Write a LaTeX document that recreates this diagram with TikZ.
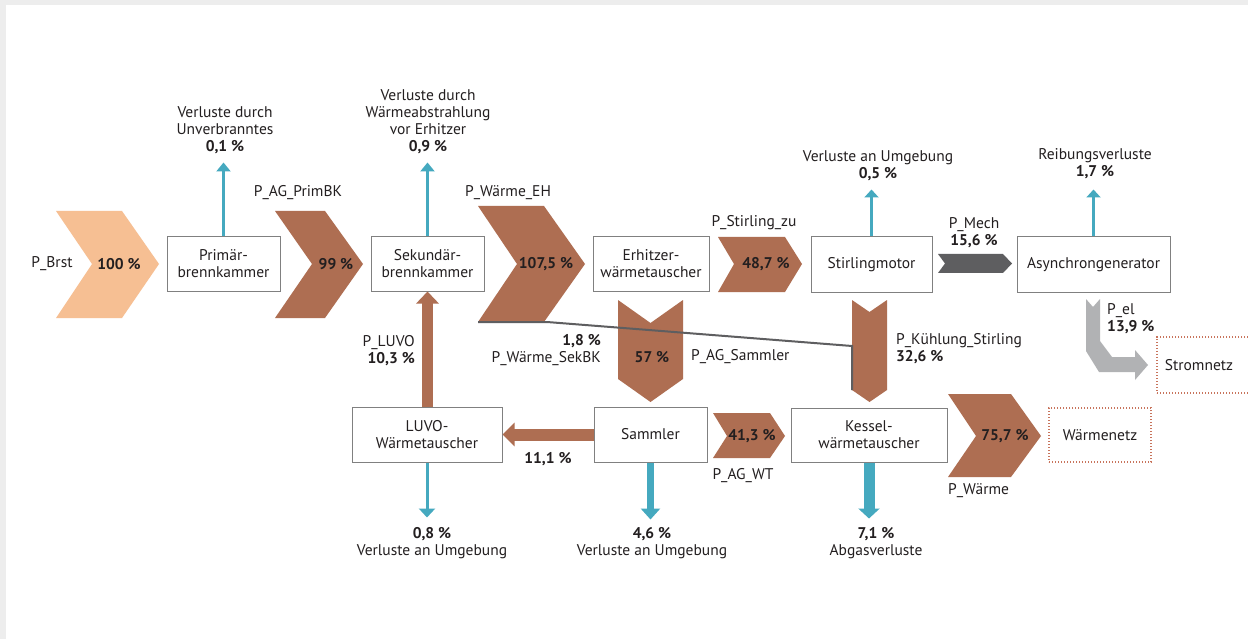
\documentclass[tikz,border=0pt]{standalone}
\usepackage{fontspec}
\setmainfont{PT Sans}
\usetikzlibrary{arrows.meta}
\definecolor{peach}{HTML}{F6BF93}
\definecolor{brown}{HTML}{AE6E52}
\definecolor{teal}{HTML}{45A9BF}
\definecolor{dgrey}{HTML}{5E5E60}
\definecolor{lgrey}{HTML}{B1B2B4}
\definecolor{boxline}{HTML}{808080}
\definecolor{dotline}{HTML}{C8745C}
\definecolor{bg}{HTML}{EDEDED}
\definecolor{txt}{HTML}{231F20}
\begin{document}
\begin{tikzpicture}[x=1pt,y=-1pt,
  font=\fontsize{15.5}{17}\selectfont, text=txt,
  box/.style={draw=boxline, line width=1pt, fill=white, align=center, inner sep=0pt},
  netbox/.style={draw=dotline, line width=1.2pt, dash pattern=on 1.2pt off 1.8pt, align=center, inner sep=0pt},
  lbl/.style={align=center, inner sep=0pt},
  pct/.style={font=\fontsize{15.5}{17}\selectfont\bfseries, inner sep=0pt},
  flow/.style={fill=brown, draw=none},
  loss/.style={draw=teal, line width=3pt},
]
\useasboundingbox (0,0) rectangle (1248,639);
\fill[bg] (0,0) rectangle (1248,639);
\fill[white] (6,5) rectangle (1248,639);

% boxes
\node[box, minimum width=113pt, minimum height=54pt] (prim) at (223.5,264) {Primär-\\brennkammer};
\node[box, minimum width=113pt, minimum height=54pt] (sek) at (427.5,264) {Sekundär-\\brennkammer};
\node[box, minimum width=116pt, minimum height=54pt] (erh) at (651,264) {Erhitzer-\\wärmetauscher};
\node[box, minimum width=121pt, minimum height=55pt] (stir) at (871.5,264.5) {Stirlingmotor};
\node[box, minimum width=153pt, minimum height=55pt] (asyn) at (1093.5,264.5) {Asynchrongenerator};
\node[box, minimum width=150pt, minimum height=55pt] (luvo) at (427,434.5) {LUVO-\\Wärmetauscher};
\node[box, minimum width=113pt, minimum height=55pt] (samm) at (650.5,434.5) {Sammler};
\node[box, minimum width=156pt, minimum height=54pt] (kess) at (869,435) {Kessel-\\wärmetauscher};
\node[netbox, minimum width=102pt, minimum height=54pt] (wnetz) at (1100,435) {Wärmenetz};
\node[netbox, minimum width=94pt, minimum height=56pt] (snetz) at (1204,365) {};
\node[lbl] (snetzt) at (1199,365) {Stromnetz};

% chevrons
\fill[peach] (56,211) -- (122,211) -- (159,264) -- (122,318) -- (56,318) -- (92,264) -- cycle;
\fill[brown] (275,211) -- (325,211) -- (363,264) -- (325,318) -- (275,318) -- (312,264) -- cycle;
\fill[brown] (478,206) -- (544,206) -- (585,264) -- (544,322) -- (478,322) -- (517,264) -- cycle;
\fill[brown] (718,237) -- (785,237) -- (802,264) -- (785,292) -- (718,292) -- (734,264) -- cycle;
\fill[dgrey] (938,254) -- (1003,254) -- (1012,263.5) -- (1003,273) -- (938,273) -- (945,263.5) -- cycle;
\fill[brown] (618,300) -- (650.5,323) -- (683,300) -- (683,379) -- (650.5,402) -- (618,379) -- cycle;
\fill[brown] (852,300) -- (869.5,312) -- (887,300) -- (887,390) -- (869.5,402) -- (852,390) -- cycle;
\fill[brown] (713,413) -- (770,413) -- (785,436) -- (770,458) -- (713,458) -- (727,436) -- cycle;
\fill[brown] (948,394) -- (1011,394) -- (1041,436) -- (1011,477) -- (948,477) -- (976,436) -- cycle;
\fill[lgrey] (1086,299) -- (1093,307) -- (1100,299) -- (1100,341) -- (1112,357) -- (1135,357) -- (1135,350) -- (1148,365) -- (1135,380) -- (1135,372) -- (1099,372) -- (1086,351) -- cycle;

% brown straight arrows
\draw[brown, line width=11pt, -{Triangle[width=22pt,length=12pt]}] (luvo.north -| 427.5,0) -- (sek.south);
\draw[brown, line width=12pt, -{Triangle[width=23pt,length=12pt]}] (samm.west) -- (luvo.east);

% loss arrows
\draw[loss, -{Triangle[width=14pt,length=9pt]}] (prim.north) -- ++(0,-74);
\draw[loss, -{Triangle[width=14pt,length=9pt]}] (sek.north) -- ++(0,-74);
\draw[loss, -{Triangle[width=14pt,length=8pt]}] (stir.north) -- ++(0,-47);
\draw[loss, -{Triangle[width=14pt,length=8pt]}] (asyn.north) -- ++(0,-47);
\draw[loss, -{Triangle[width=16pt,length=9pt]}] (luvo.south) -- ++(0,55);
\draw[loss, line width=7pt, -{Triangle[width=19pt,length=11pt]}] (samm.south) -- ++(0,57);
\draw[loss, line width=11pt, -{Triangle[width=21pt,length=10pt]}] (kess.south) -- ++(0,56);

% SekBK line
\coordinate (sk0) at (478,322);
\coordinate (sk1) at (547,322);
\coordinate (sk2) at (852,346);
\coordinate (sk3) at (852,390);
\draw[dgrey, line width=2pt] (sk0) -- (sk1) -- (sk2) -- (sk3);

% percentages on flows
\node[pct] (p100) at (119,264) {100 \%};
\node[pct] (p99) at (336,264) {99 \%};
\node[pct] (p1075) at (546,264) {107,5 \%};
\node[pct] (p487) at (766,264) {48,7 \%};
\node[pct] (p57) at (652,357) {57 \%};
\node[pct] (p413) at (752,436) {41,3 \%};
\node[pct] (p757) at (1005,436) {75,7 \%};
\node[pct] (p111) at (548,459) {11,1 \%};

% labels
\node[lbl] (brst) at (52,264) {P\_Brst};
\node[lbl] (agprim) at (298,193) {P\_AG\_PrimBK};
\node[lbl] (weh) at (508,193) {P\_Wärme\_EH};
\node[lbl] (stzu) at (754,223) {P\_Stirling\_zu};
\node[lbl] (mech) at (974,233) {P\_Mech\\\textbf{15,6 \%}};
\node[lbl, align=left, anchor=west] (pel) at (1107,318.5) {P\_el\\\textbf{13,9 \%}};
\node[lbl, align=left, anchor=west] (kuehl) at (896,348.5) {P\_Kühlung\_Stirling\\\textbf{32,6 \%}};
\node[lbl, anchor=west] (agsamm) at (691,357) {P\_AG\_Sammler};
\node[lbl, align=right, anchor=east] (sekbk) at (601,350) {\textbf{1,8 \%}\\P\_Wärme\_SekBK};
\node[lbl, align=right, anchor=east] (pluvo) at (415,350.5) {P\_LUVO\\\textbf{10,3 \%}};
\node[lbl] (agwt) at (743,476) {P\_AG\_WT};
\node[lbl, anchor=west] (pw) at (948,491) {P\_Wärme};

\node[lbl] (l1) at (225,130.5) {Verluste durch\\Unverbranntes\\\textbf{0,1 \%}};
\node[lbl] (l2) at (428,121.5) {Verluste durch\\Wärmeabstrahlung\\vor Erhitzer\\\textbf{0,9 \%}};
\node[lbl] (l3) at (878,165.5) {Verluste an Umgebung\\\textbf{0,5 \%}};
\node[lbl] (l4) at (1095,163.5) {Reibungsverluste\\\textbf{1,7 \%}};
\node[lbl] (b1) at (432,543) {\textbf{0,8 \%}\\Verluste an Umgebung};
\node[lbl] (b2) at (652,543) {\textbf{4,6 \%}\\Verluste an Umgebung};
\node[lbl] (b3) at (876,543) {\textbf{7,1 \%}\\Abgasverluste};
\end{tikzpicture}
\end{document}
